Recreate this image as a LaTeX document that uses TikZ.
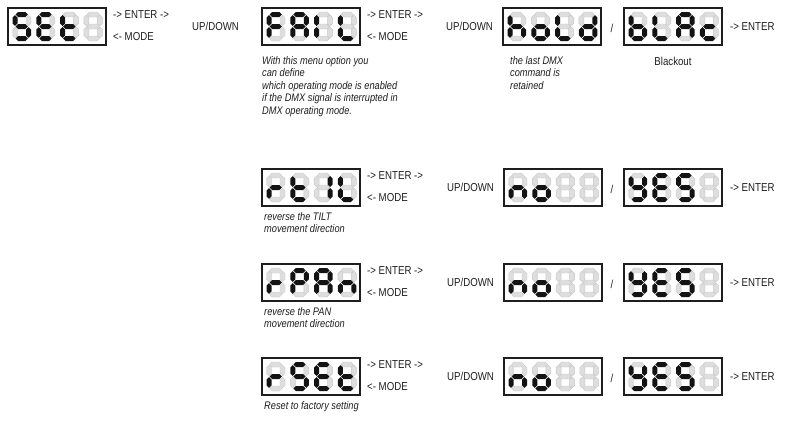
\documentclass[tikz,border=0pt]{standalone}
\usepackage{fontspec}
\setmainfont{Liberation Sans}[FakeStretch=0.84]
\usetikzlibrary{positioning}
\definecolor{segon}{HTML}{131313}
\definecolor{segoff}{HTML}{DEDEDE}
\definecolor{segedge}{HTML}{C8C8C8}
\definecolor{ctext}{HTML}{1E1E1E}
\tikzset{
  disp/.style={draw=ctext, line width=1.2pt, minimum width=98pt, minimum height=37pt, inner sep=0pt, outer sep=0pt, anchor=north west},
  lbl/.style={font=\fontsize{11.5}{13}\selectfont, text=ctext, inner sep=0pt, anchor=west},
  note/.style={font=\fontsize{11}{12.5}\selectfont\itshape, text=ctext, inner sep=0pt, align=left, anchor=north west},
  lit/.style={fill=segon},
  dark/.style={fill=segoff, draw=segedge, line width=0.4pt},
}
% one bar of a seven segment digit
\newcommand\hseg[2]{(#1-6.15,#2) -- ++(2.5,-2.5) -- ++(7.3,0) -- ++(2.5,2.5) -- ++(-2.5,2.5) -- ++(-7.3,0) -- cycle}
\newcommand\vseg[2]{(#1,#2-5.4) -- ++(2.5,2.5) -- ++(0,5.8) -- ++(-2.5,2.5) -- ++(-2.5,-2.5) -- ++(0,-5.8) -- cycle}
\newcommand\segpaint[2]{\ifnum#1=1 \fill[lit] #2;\else\filldraw[dark] #2;\fi}
% bits a b c d e f g
\def\segbits#1#2#3#4#5#6#7{%
  \segpaint{#1}{\hseg{9.25}{2.5}}%
  \segpaint{#2}{\vseg{16}{8.5}}%
  \segpaint{#3}{\vseg{16}{20.5}}%
  \segpaint{#4}{\hseg{9.25}{26.5}}%
  \segpaint{#5}{\vseg{2.5}{20.5}}%
  \segpaint{#6}{\vseg{2.5}{8.5}}%
  \segpaint{#7}{\hseg{9.25}{14.5}}}
\newcommand\segdigit[3]{\begin{scope}[shift={(#1,#2)}]\edef\digbits{#3}\expandafter\segbits\digbits\end{scope}}
% framed panel of four digits
\newcommand\ledpanel[6]{%
  \node[disp] (#1) at (#2) {};
  \begin{scope}[shift={(#1.north west)}]
    \segdigit{4.5}{4}{#3}\segdigit{28.3}{4}{#4}\segdigit{52.1}{4}{#5}\segdigit{75.9}{4}{#6}
  \end{scope}}

\begin{document}
\begin{tikzpicture}[x=1pt, y=-1pt]
  \useasboundingbox (0,0) rectangle (791,423);
  % top row: SEt -> FAIL -> hoLd / bLAc
  \ledpanel{set}{8,8}{1011011}{1001111}{0001111}{0000000}
  \node[lbl] (setenter) at ([xshift=7pt,yshift=-7pt]set.north east) {-> ENTER ->};
  \node[lbl] (setmode) at ([xshift=7pt,yshift=-28.5pt]set.north east) {<- MODE};
  \node[lbl] (setud) at (192,26) {UP/DOWN};
  \ledpanel{fail}{262,8}{1000111}{1110111}{0000110}{0001110}
  \node[lbl] (failenter) at ([xshift=7pt,yshift=-7pt]fail.north east) {-> ENTER ->};
  \node[lbl] (failmode) at ([xshift=7pt,yshift=-28.5pt]fail.north east) {<- MODE};
  \node[note] (failnote) at ([yshift=-11pt]fail.south west) {With this menu option you\\can define\\which operating mode is enabled\\if the DMX signal is interrupted in\\DMX operating mode.};
  \node[lbl] (failud) at (446,26) {UP/DOWN};
  \ledpanel{hold}{503,8}{0010111}{0011101}{0001110}{0111101}
  \node[note] (holdnote) at ([xshift=7pt,yshift=-11pt]hold.south west) {the last DMX\\command is\\retained};
  \node[lbl, anchor=center] (holdsl) at (612,28) {/};
  \ledpanel{blac}{624,8}{0011111}{0001110}{1110111}{0001101}
  \node[lbl, anchor=north] (blacnote) at ([yshift=-12pt]blac.south) {Blackout};
  \node[lbl] (blacenter) at ([xshift=8pt]blac.east) {-> ENTER};
  % sub menus: name / top / digits / text
  \foreach \nm/\y/\da/\db/\dc/\dd/\txt in {
    rtil/169/0000101/0001111/0110000/0001110/{reverse the TILT\\movement direction},
    rpan/264/0000101/1100111/1110111/0010101/{reverse the PAN\\movement direction},
    rset/358/0000101/1011011/1001111/0001111/{Reset to factory setting}}
  {
    \ledpanel{\nm}{262,\y}{\da}{\db}{\dc}{\dd}
    \node[lbl] (\nm enter) at ([xshift=7pt,yshift=-7pt]\nm.north east) {-> ENTER ->};
    \node[lbl] (\nm mode) at ([xshift=7pt,yshift=-28.5pt]\nm.north east) {<- MODE};
    \node[note] (\nm note) at ([xshift=2pt,yshift=-6pt]\nm.south west) {\txt};
    \node[lbl] (\nm ud) at (447,\y+18) {UP/DOWN};
    \ledpanel{no\nm}{504,\y}{0010101}{0011101}{0000000}{0000000}
    \node[lbl, anchor=center] (\nm sl) at (612,\y+20) {/};
    \ledpanel{yes\nm}{624,\y}{0111011}{1001111}{1011011}{0000000}
    \node[lbl] (\nm ok) at ([xshift=8pt]yes\nm.east) {-> ENTER};
  }
\end{tikzpicture}
\end{document}
